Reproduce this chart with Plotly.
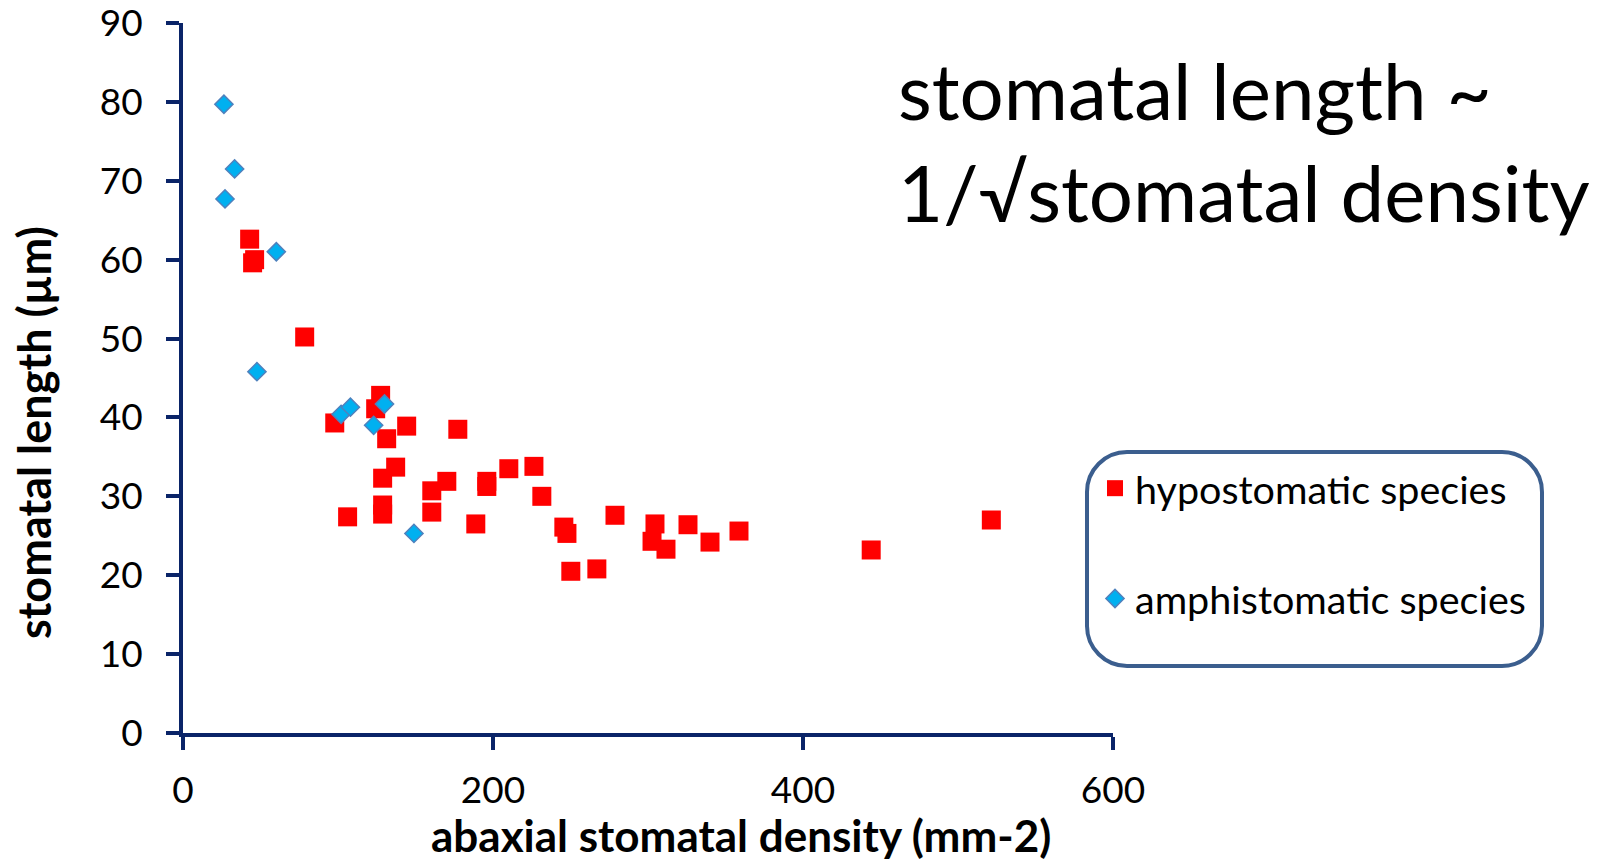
import plotly.graph_objects as go

# ---- data ----
hypo_density = [43.0, 46.2, 44.9, 78.5, 97.9, 127.5, 124.3, 144.3, 177.3, 131.4,
                137.2, 128.8, 128.8, 128.8, 106.2, 160.5, 170.2, 160.5, 196.0, 196.0,
                210.2, 226.4, 231.5, 188.9, 245.7, 247.7, 250.2, 267.0, 278.7, 304.5,
                302.6, 311.6, 325.8, 340.0, 358.7, 444.0, 521.5]
hypo_length = [62.6, 60.0, 59.6, 50.2, 39.3, 42.8, 41.1, 38.9, 38.5, 37.3,
               33.7, 32.3, 28.9, 27.75, 27.4, 30.7, 31.9, 28.0, 31.9, 31.25,
               33.5, 33.8, 30.0, 26.5, 26.1, 25.3, 20.5, 20.8, 27.6, 26.5,
               24.3, 23.3, 26.4, 24.2, 25.6, 23.2, 27.0]

amphi_density = [26.4, 33.3, 27.1, 60.2, 47.7, 102.0, 108.0, 130.0, 123.0, 149.0]
amphi_length = [79.7, 71.5, 67.7, 61.0, 45.8, 40.4, 41.3, 41.7, 39.0, 25.3]

x_ticks = [0, 200, 400, 600]
y_ticks = [0, 10, 20, 30, 40, 50, 60, 70, 80, 90]

series_names = ["hypostomatic species", "amphistomatic species"]
title_lines = ["stomatal length ~", "1/\u221astomatal density"]
x_title = "abaxial stomatal density (mm-2)"
y_title = "stomatal length (\u00b5m)"

# ---- layout constants ----
W, H = 1601, 863
L, R, T, B = 183, 488, 23, 130
PW, PH = W - L - R, H - T - B
AXIS = "#0A2468"
FONT = "Lato"


def px_to_paper(px, py):
    return (px - L) / PW, (H - B - py) / PH


fig = go.Figure()
fig.add_trace(go.Scatter(
    x=hypo_density, y=hypo_length, mode="markers", name=series_names[0],
    legendgroup="a",
    marker=dict(symbol="square", size=19, color="#FF0000", line=dict(width=0)),
))
fig.add_trace(go.Scatter(
    x=amphi_density, y=amphi_length, mode="markers", name=series_names[1],
    legendgroup="b",
    marker=dict(symbol="diamond", size=14, color="#00B0F0",
                line=dict(width=1.5, color="#4F81BD")),
))

axis_common = dict(
    showgrid=False, zeroline=False, showline=True, linecolor=AXIS, linewidth=4,
    ticks="outside", ticklen=13, tickwidth=4, tickcolor=AXIS,
    tickfont=dict(family=FONT, size=37, color="#000000"),
    ticklabeloverflow="allow",
)
fig.update_xaxes(range=[0, 600], tickvals=x_ticks, ticklabelstandoff=9, **axis_common)
fig.update_yaxes(range=[0, 90], tickvals=y_ticks, ticklabelstandoff=16, **axis_common)

# rounded legend box (pixel coords -> paper)
bx0, by0, bx1, by1, rad = 1087, 452, 1542, 666, 40
k = 0.5523 * rad


def P(x, y):
    a, b = px_to_paper(x, y)
    return f"{a:.5f},{b:.5f}"


path = (
    f"M {P(bx0 + rad, by0)} L {P(bx1 - rad, by0)} "
    f"C {P(bx1 - rad + k, by0)} {P(bx1, by0 + rad - k)} {P(bx1, by0 + rad)} "
    f"L {P(bx1, by1 - rad)} "
    f"C {P(bx1, by1 - rad + k)} {P(bx1 - rad + k, by1)} {P(bx1 - rad, by1)} "
    f"L {P(bx0 + rad, by1)} "
    f"C {P(bx0 + rad - k, by1)} {P(bx0, by1 - rad + k)} {P(bx0, by1 - rad)} "
    f"L {P(bx0, by0 + rad)} "
    f"C {P(bx0, by0 + rad - k)} {P(bx0 + rad - k, by0)} {P(bx0 + rad, by0)} Z"
)
fig.add_shape(type="path", path=path, xref="paper", yref="paper",
              line=dict(color="#3B5E8E", width=4), fillcolor="rgba(0,0,0,0)")

lx, ly = px_to_paper(1095, 456)
fig.update_layout(
    width=W, height=H,
    margin=dict(l=L, r=R, t=T, b=B, autoexpand=False),
    paper_bgcolor="white", plot_bgcolor="white",
    showlegend=True,
    legend=dict(x=lx, y=ly, xanchor="left", yanchor="top",
                font=dict(family=FONT, size=39.5, color="#000000"),
                bgcolor="rgba(0,0,0,0)", borderwidth=0,
                tracegroupgap=56),
)

# title text
tx, ty1 = px_to_paper(896, 120)
_, ty2 = px_to_paper(896, 222)
for txt, yy in zip(title_lines, [ty1, ty2]):
    fig.add_annotation(text=txt, x=tx, y=yy, xref="paper", yref="paper",
                       xanchor="left", yanchor="bottom", showarrow=False,
                       yshift=-19,
                       font=dict(family=FONT, size=78, color="#000000"))

# axis titles
ax, ay = px_to_paper(741, 835)
fig.add_annotation(text=f"<b>{x_title}</b>", x=ax, y=ay, xref="paper", yref="paper",
                   xanchor="center", yanchor="middle", showarrow=False,
                   font=dict(family=FONT, size=44, color="#000000"))
bx, byy = px_to_paper(34, 433)
fig.add_annotation(text=f"<b>{y_title}</b>", x=bx, y=byy, xref="paper", yref="paper",
                   xanchor="center", yanchor="middle", showarrow=False, textangle=-90,
                   font=dict(family=FONT, size=45, color="#000000"))

fig.write_html("out.html")
